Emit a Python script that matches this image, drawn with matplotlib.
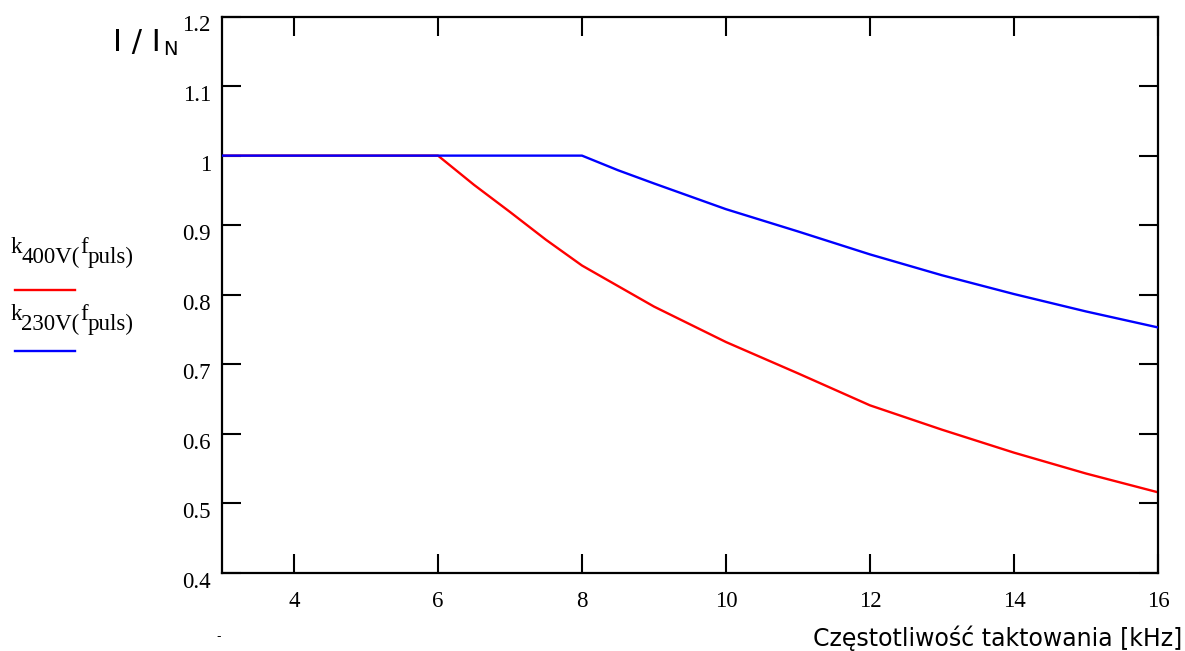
import matplotlib
matplotlib.use("Agg")
import matplotlib.pyplot as plt
from matplotlib.transforms import ScaledTranslation

# values
f_400 = [3, 6, 6.5, 7, 7.5, 8, 9, 10, 11, 12, 13, 14, 15, 16]
k_400 = [1.0, 1.0, 0.958, 0.919, 0.879, 0.842, 0.783, 0.732, 0.687, 0.641, 0.606, 0.573, 0.543, 0.516]

f_230 = [3, 8, 8.5, 9, 10, 11, 12, 13, 14, 15, 16]
k_230 = [1.0, 1.0, 0.979, 0.960, 0.923, 0.891, 0.858, 0.828, 0.801, 0.776, 0.753]

x_ticks = [4, 6, 8, 10, 12, 14, 16]
y_ticks = [0.4, 0.5, 0.6, 0.7, 0.8, 0.9, 1.0, 1.1, 1.2]
y_labels = ["0.4", "0.5", "0.6", "0.7", "0.8", "0.9", "1", "1.1", "1.2"]

serif = "Liberation Serif"

fig = plt.figure(figsize=(11.85, 6.51), dpi=100)
ax = fig.add_axes([222 / 1185, 1 - 573 / 651, (1158 - 222) / 1185, (573 - 16.5) / 651])

ax.plot(f_400, k_400, color="#ff0000", lw=1.7, zorder=2)
ax.plot(f_230, k_230, color="#0000ff", lw=1.7, zorder=3)

ax.set_xlim(3, 16)
ax.set_ylim(0.4, 1.2)
ax.set_xticks(x_ticks)
ax.set_yticks(y_ticks)
ax.set_yticklabels(y_labels)

for s in ax.spines.values():
    s.set_linewidth(1.6)
ax.tick_params(axis="both", direction="in", length=14, width=1.5,
               top=True, right=True, labelsize=16.5)
ax.tick_params(axis="x", pad=13)
ax.tick_params(axis="y", pad=8)
for lab in ax.get_xticklabels() + ax.get_yticklabels():
    lab.set_fontfamily(serif)
for lab in ax.get_yticklabels():
    lab.set_transform(lab.get_transform() + ScaledTranslation(0, -5 / 72, fig.dpi_scale_trans))


def px(x, y):
    return x / 1185, 1 - y / 651


# y axis label
fig.text(*px(113, 51), "I / I", fontsize=22, family="DejaVu Sans", va="baseline")
fig.text(*px(163, 55), "N", fontsize=14, family="DejaVu Sans", va="baseline")

# x axis label
fig.text(*px(1182, 646), "Częstotliwość taktowania [kHz]", fontsize=17,
         family="DejaVu Sans", ha="right", va="baseline")
fig.text(*px(219, 640), "-", fontsize=9, family="DejaVu Sans", ha="center", va="baseline")

# legend on the left
for base, name, col, ly in [(253, "400V(", "#ff0000", 290), (320, "230V(", "#0000ff", 351)]:
    fig.text(*px(11, base), "k", fontsize=16.5, family=serif, va="baseline")
    fig.text(*px(21, base + 10), name, fontsize=16.5, family=serif, va="baseline")
    fig.text(*px(80, base), "f", fontsize=16.5, family=serif, va="baseline")
    fig.text(*px(88, base + 10), "puls)", fontsize=16.5, family=serif, va="baseline")
    fig.add_artist(plt.Line2D([15 / 1185, 75 / 1185], [1 - ly / 651, 1 - ly / 651],
                              color=col, lw=1.7))

fig.savefig("out.png", dpi=100)
